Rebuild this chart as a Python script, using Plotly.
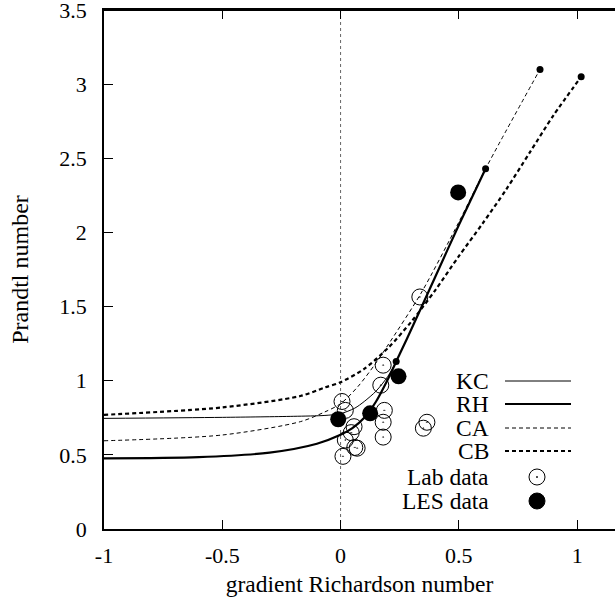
import plotly.graph_objects as go

# ---- data ----
kc_ri = [-1.0, -0.5, -0.2, -0.066, 0.0, 0.06, 0.1, 0.15, 0.2, 0.235]
kc_pr = [0.746, 0.753, 0.760, 0.766, 0.778, 0.815, 0.86, 0.93, 1.03, 1.13]

rh_ri = [-1.0, -0.6, -0.3, -0.1, 0.0, 0.05, 0.1, 0.15, 0.2, 0.25, 0.3, 0.4, 0.5, 0.613]
rh_pr = [0.477, 0.485, 0.515, 0.575, 0.635, 0.68, 0.75, 0.86, 1.01, 1.18, 1.35, 1.70, 2.05, 2.43]

ca_ri = [-1.0, -0.5, -0.17, -0.066, 0.0, 0.073, 0.145, 0.2, 0.34, 0.5, 0.613, 0.843]
ca_pr = [0.595, 0.634, 0.724, 0.79, 0.845, 0.96, 1.11, 1.24, 1.59, 2.07, 2.43, 3.10]

cb_ri = [-1.0, -0.5, -0.17, -0.066, 0.0, 0.1, 0.2, 0.3, 0.4, 0.5, 0.6, 0.7, 0.8, 0.9, 1.017]
cb_pr = [0.77, 0.82, 0.897, 0.955, 0.99, 1.08, 1.22, 1.40, 1.61, 1.84, 2.06, 2.29, 2.54, 2.79, 3.05]

lab_ri = [0.006, 0.02, 0.057, 0.045, 0.02, 0.06, 0.07, 0.01, 0.17, 0.18, 0.185, 0.18, 0.18, 0.35, 0.365, 0.335]
lab_pr = [0.86, 0.80, 0.69, 0.65, 0.60, 0.55, 0.545, 0.49, 0.97, 1.105, 0.80, 0.72, 0.62, 0.68, 0.72, 1.565]

les_ri = [-0.01, 0.125, 0.245, 0.497]
les_pr = [0.74, 0.78, 1.03, 2.27]

legend_names = ["KC", "RH", "CA", "CB", "Lab data", "LES data"]
x_ticks = [-1, -0.5, 0, 0.5, 1]
x_tick_text = ["-1", "-0.5", "0", "0.5", "1"]
y_ticks = [0, 0.5, 1, 1.5, 2, 2.5, 3, 3.5]
y_tick_text = ["0", "0.5", "1", "1.5", "2", "2.5", "3", "3.5"]

FONT = "Liberation Serif, Times New Roman, serif"
FS_TICK = 22
FS_TEXT = 23.5
W, H = 615, 607
ML, MR, MT, MB = 104, 0, 10, 78
PW, PH = W - ML - MR, H - MT - MB

curves = [
    (kc_ri, kc_pr, dict(color="black", width=1, dash="solid")),
    (rh_ri, rh_pr, dict(color="black", width=2.2, dash="solid")),
    (ca_ri, ca_pr, dict(color="black", width=1, dash="4px,3px")),
    (cb_ri, cb_pr, dict(color="black", width=2.2, dash="4px,3px")),
]

fig = go.Figure()
for (xs, ys, ln), name in zip(curves, legend_names[:4]):
    fig.add_trace(go.Scatter(x=xs, y=ys, mode="lines", line=dict(shape="spline", smoothing=0.8, **ln),
                             name=name, showlegend=False, hoverinfo="skip"))
# end dots of the curves
fig.add_trace(go.Scatter(x=[c[0][-1] for c in curves], y=[c[1][-1] for c in curves], mode="markers",
                         marker=dict(color="black", size=7), showlegend=False, hoverinfo="skip"))

fig.add_trace(go.Scatter(x=lab_ri, y=lab_pr, mode="markers", name="Lab data", showlegend=False,
                         marker=dict(symbol="circle-open-dot", size=16, color="black", line=dict(width=1))))
fig.add_trace(go.Scatter(x=les_ri, y=les_pr, mode="markers", name="LES data", showlegend=False,
                         marker=dict(symbol="circle", size=16, color="black")))

shapes = [dict(type="line", xref="x", yref="y", x0=0, x1=0, y0=0, y1=3.5,
               line=dict(color="#666", width=1, dash="dot"), layer="below"),
          dict(type="line", xref="paper", yref="y", x0=0, x1=1, y0=3.5, y1=3.5,
               line=dict(color="black", width=2), layer="above")]
annotations = []

def px2paper(px, py):
    return (px - ML) / PW, (H - MB - py) / PH

rows_py = [381, 404, 428, 451, 477, 501]
text_right = 491
line_x0, line_x1, mark_x = 505, 571, 537
styles = [c[2] for c in curves]
for i, (name, py) in enumerate(zip(legend_names, rows_py)):
    tx, ty = px2paper(text_right, py)
    annotations.append(dict(x=tx, y=ty, xref="paper", yref="paper", text=name, showarrow=False,
                            xanchor="right", yanchor="middle", font=dict(family=FONT, size=FS_TEXT, color="black")))
    if i < 4:
        lx0, ly = px2paper(line_x0, py)
        lx1, _ = px2paper(line_x1, py)
        shapes.append(dict(type="line", xref="paper", yref="paper", x0=lx0, x1=lx1, y0=ly, y1=ly,
                           line=styles[i]))
    else:
        mx, my = px2paper(mark_x, py)
        if i == 4:
            shapes.append(dict(type="circle", xref="paper", yref="paper", xsizemode="pixel", ysizemode="pixel",
                               xanchor=mx, yanchor=my, x0=-8, x1=8, y0=-8, y1=8,
                               line=dict(color="black", width=1)))
            shapes.append(dict(type="circle", xref="paper", yref="paper", xsizemode="pixel", ysizemode="pixel",
                               xanchor=mx, yanchor=my, x0=-0.6, x1=0.6, y0=-0.6, y1=0.6,
                               line=dict(color="black", width=0.8), fillcolor="black"))
        else:
            shapes.append(dict(type="circle", xref="paper", yref="paper", xsizemode="pixel", ysizemode="pixel",
                               xanchor=mx, yanchor=my, x0=-8, x1=8, y0=-8, y1=8,
                               line=dict(color="black", width=1), fillcolor="black"))

fig.update_layout(
    width=W, height=H, margin=dict(l=ML, r=MR, t=MT, b=MB, autoexpand=False),
    paper_bgcolor="white", plot_bgcolor="white",
    font=dict(family=FONT, size=FS_TEXT, color="black"),
    shapes=shapes, annotations=annotations, showlegend=False,
    xaxis=dict(range=[-1, 1.16], tickvals=x_ticks, ticktext=x_tick_text, ticks="inside", ticklen=9,
               tickcolor="black", showline=True, linecolor="black", linewidth=1.5, mirror="allticks",
               showgrid=False, zeroline=False, ticklabelstandoff=6,
               tickfont=dict(family=FONT, size=FS_TICK),
               title=dict(text="gradient Richardson number", standoff=8, font=dict(family=FONT, size=FS_TEXT))),
    yaxis=dict(range=[0, 3.5005], tickvals=y_ticks, ticktext=y_tick_text, ticks="inside", ticklen=9,
               tickcolor="black", showline=True, linecolor="black", linewidth=1.5,
               showgrid=False, zeroline=False, ticklabelstandoff=11, ticklabeloverflow="allow",
               tickfont=dict(family=FONT, size=FS_TICK),
               title=dict(text="Prandtl number", standoff=24, font=dict(family=FONT, size=24))),
)

fig.write_html("out.html")
